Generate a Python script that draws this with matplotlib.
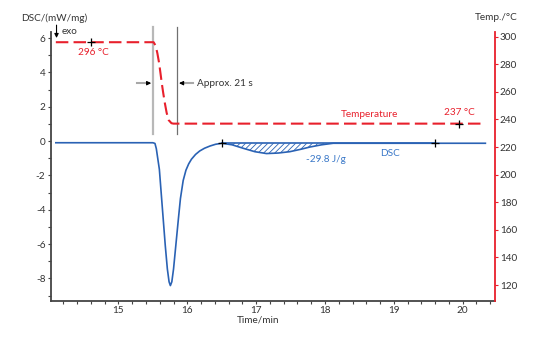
import matplotlib
matplotlib.use("Agg")
import matplotlib.pyplot as plt
import numpy as np

plt.rcParams['font.family'] = ['Lato', 'DejaVu Sans']
plt.rcParams['hatch.linewidth'] = 0.6
plt.rcParams['axes.unicode_minus'] = False

# DSC signal (mW/mg) vs time (min)
dsc_t = [14.09, 15.50, 15.53, 15.55, 15.57, 15.594, 15.62, 15.65, 15.68, 15.71,
         15.735, 15.754, 15.775, 15.80, 15.835, 15.87, 15.90, 15.94, 15.98, 16.02,
         16.06, 16.12, 16.18, 16.25, 16.33, 16.41, 16.50, 16.65, 16.81, 16.98,
         17.15, 17.32, 17.49, 17.65, 17.78, 17.95, 18.12, 18.50, 19.60, 20.33]
dsc_v = [-0.10, -0.10, -0.14, -0.45, -1.00, -1.65, -3.00, -4.55, -6.10, -7.45,
         -8.20, -8.42, -8.20, -7.45, -6.00, -4.55, -3.35, -2.30, -1.70, -1.33,
         -1.06, -0.78, -0.58, -0.42, -0.29, -0.19, -0.13, -0.22, -0.42, -0.62,
         -0.73, -0.70, -0.62, -0.48, -0.35, -0.22, -0.13, -0.13, -0.13, -0.13]

# furnace temperature (°C) vs time (min)
temp_t = [14.09, 15.51, 15.54, 15.565, 15.59, 15.61, 15.63, 15.65, 15.675,
          15.70, 15.73, 15.77, 15.80, 20.33]
temp_v = [296, 296, 293.5, 288, 281, 273.6, 266, 259.2, 251.5,
          244.8, 239.5, 237.3, 237, 237]

# integration limits of the small peak
peak_lim_t = [16.5, 19.6]
peak_base = -0.13
temp_marks_t = [14.6, 19.95]
temp_marks_v = [296, 237]

# cooling window
win_t = [15.5, 15.855]

blue = '#2a62b4'
red = '#e8202c'
fs = 7.2

fig = plt.figure(figsize=(5.41, 3.39), dpi=100)
ax = fig.add_axes([0.0943, 0.113, 0.8207, 0.7926])
ax2 = ax.twinx()

ax.plot(dsc_t, dsc_v, color=blue, lw=1.2, zorder=3)
t = np.array(dsc_t)
v = np.array(dsc_v)
m = (t >= peak_lim_t[0]) & (t <= peak_lim_t[1])
ax.fill_between(t[m], v[m], peak_base, facecolor='none', edgecolor=blue,
                hatch='//////', lw=0, zorder=2)
ax.plot(peak_lim_t, [peak_base, peak_base], color=blue, lw=1.2, zorder=3)
ax.plot(peak_lim_t, [peak_base, peak_base], '+', color='black', ms=6, mew=0.9, zorder=4)

ax2.plot(temp_t, temp_v, color=red, lw=1.5, dashes=(6, 2.5), zorder=3)
ax2.plot(temp_marks_t, temp_marks_v, '+', color='black', ms=6, mew=0.9, zorder=4)

# cooling window lines and arrows
ax.plot([win_t[0], win_t[0]], [0.39, 6.67], color='#b8b8b8', lw=1.6, clip_on=False, zorder=1)
ax.plot([win_t[1], win_t[1]], [0.39, 6.67], color='#707070', lw=0.9, clip_on=False, zorder=1)
ax.plot([15.27, 15.44], [3.37, 3.37], color='#a8a8a8', lw=1.5)
ax.plot([15.91, 16.08], [3.37, 3.37], color='#a8a8a8', lw=1.5)
ax.annotate('', xy=(15.475, 3.37), xytext=(15.43, 3.37),
            arrowprops=dict(arrowstyle='-|>', color='black', lw=0.8,
                            mutation_scale=6, shrinkA=0, shrinkB=0))
ax.annotate('', xy=(15.88, 3.37), xytext=(15.925, 3.37),
            arrowprops=dict(arrowstyle='-|>', color='black', lw=0.8,
                            mutation_scale=6, shrinkA=0, shrinkB=0))
ax.text(16.14, 3.37, 'Approx. 21 s', fontsize=fs, color='#333333', va='center', ha='left')

# labels on curves
ax2.text(14.64, 288.3, '296 °C', color=red, fontsize=fs, ha='center', va='center')
ax2.text(19.95, 245, '237 °C', color=red, fontsize=fs, ha='center', va='center')
ax2.text(18.65, 243.6, 'Temperature', color=red, fontsize=fs, ha='center', va='center')
ax.text(18.02, -1.06, '-29.8 J/g', color='#3a78c8', fontsize=fs, ha='center', va='center')
ax.text(18.95, -0.71, 'DSC', color='#3a78c8', fontsize=fs, ha='center', va='center')

# exo arrow
ax.annotate('', xy=(14.1, 6.0), xytext=(14.1, 6.75),
            xycoords='data', arrowprops=dict(arrowstyle='-|>', color='black', lw=0.8,
                                             mutation_scale=6, shrinkA=0, shrinkB=0),
            annotation_clip=False)
ax.text(14.17, 6.4, 'exo', fontsize=fs, color='#333333', va='center', ha='left')

ax.set_xlim(14.02, 20.47)
ax.set_ylim(-9.3, 6.35)
ax2.set_ylim(108.7, 303.4)

ax.set_xticks([15, 16, 17, 18, 19, 20])
ax.set_xticks(np.arange(14.2, 20.5, 0.2), minor=True)
ax.set_yticks([-8, -6, -4, -2, 0, 2, 4, 6])
ax.set_yticks(np.arange(-9, 7, 1), minor=True)
ax2.set_yticks(np.arange(120, 301, 20))

for a in (ax, ax2):
    a.spines['top'].set_visible(False)
ax2.spines['left'].set_visible(False)
ax2.spines['bottom'].set_visible(False)
ax.spines['right'].set_visible(False)
ax.spines['left'].set_color('#444444')
ax.spines['bottom'].set_color('#444444')
ax.spines['left'].set_linewidth(1.3)
ax.spines['bottom'].set_linewidth(1.3)
ax2.spines['right'].set_color(red)
ax2.spines['right'].set_linewidth(1.3)

ax.tick_params(axis='both', which='major', length=2.5, width=0.8, labelsize=fs,
               colors='#444444', labelcolor='#333333', pad=1.5)
ax.tick_params(axis='both', which='minor', length=2, width=0.8, colors='#444444')
ax2.tick_params(axis='y', which='major', length=2.5, width=0.8, labelsize=fs,
                colors=red, labelcolor='#333333', pad=1)

fig.text(54 / 541, 1 - 18 / 339, 'DSC/(mW/mg)', fontsize=fs, color='#333333',
         ha='center', va='center')
fig.text(496 / 541, 1 - 18 / 339, 'Temp./°C', fontsize=fs, color='#333333',
         ha='center', va='center')
fig.text(258 / 541, 1 - 320 / 339, 'Time/min', fontsize=fs, color='#333333',
         ha='center', va='center')

fig.savefig('out.png', dpi=100)
